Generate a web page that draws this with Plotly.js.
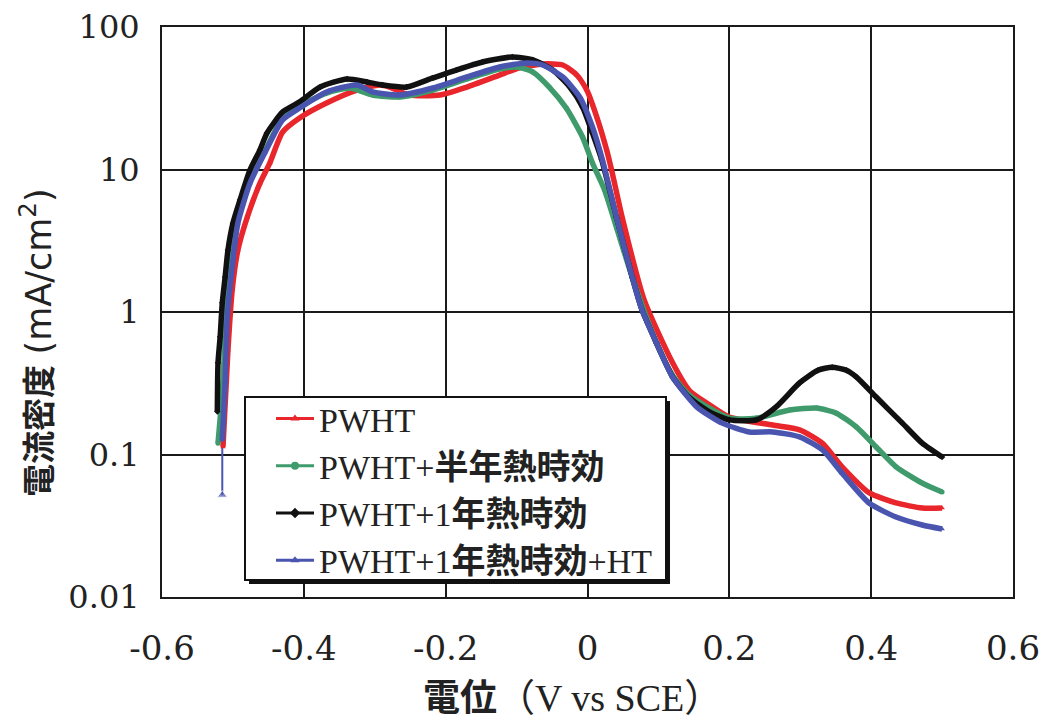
<!DOCTYPE html>
<html>
<head>
<meta charset="utf-8">
<script src="https://cdn.plot.ly/plotly-3.0.1.min.js"></script>
<style>
  html, body { margin: 0; padding: 0; background: #fff; }
  #chart { width: 1050px; height: 722px; }
</style>
</head>
<body>
<div id="chart"></div>
<script>
// Anodic polarization curves: potential (V vs SCE) against current density (mA/cm2)

const seriesNames = ['PWHT', 'PWHT+<b>半年熱時効</b>', 'PWHT+1<b>年熱時効</b>', 'PWHT+1<b>年熱時効</b>+HT'];

const potentialPWHT = [-0.514,-0.507,-0.501,-0.493,-0.480,-0.462,-0.448,-0.430,-0.406,-0.368,-0.325,-0.293,-0.279,-0.251,-0.208,-0.170,-0.124,-0.096,-0.063,-0.035,-0.015,-0.001,0.013,0.027,0.034,0.049,0.080,0.120,0.144,0.168,0.200,0.261,0.299,0.331,0.359,0.397,0.435,0.472,0.500];
const currentPWHT = [0.113,0.54,1.43,2.72,4.6,8.0,11.1,18.3,23.0,29.3,36.1,39.2,37.9,33.3,33.3,37.9,46.0,51.6,55.0,54.1,46.0,36.1,23.4,13.7,9.9,4.6,1.21,0.44,0.28,0.23,0.183,0.161,0.149,0.12,0.082,0.054,0.0457,0.0421,0.0421];

const potentialHalfYear = [-0.521,-0.514,-0.510,-0.503,-0.494,-0.477,-0.456,-0.430,-0.406,-0.368,-0.335,-0.303,-0.265,-0.218,-0.170,-0.124,-0.100,-0.077,-0.054,-0.030,-0.007,0.007,0.024,0.041,0.063,0.097,0.120,0.144,0.200,0.238,0.285,0.323,0.351,0.379,0.407,0.435,0.472,0.500];
const currentHalfYear = [0.12,0.32,0.92,2.07,4.2,8.0,13.1,23.0,27.9,34.4,37.3,33.3,32.3,36.1,43.2,50.7,52.4,48.3,37.9,27.0,16.9,11.1,7.2,3.9,1.76,0.61,0.36,0.26,0.18,0.18,0.205,0.212,0.195,0.156,0.113,0.082,0.063,0.0546];

const potentialOneYear = [-0.522,-0.521,-0.518,-0.515,-0.511,-0.507,-0.500,-0.490,-0.476,-0.462,-0.452,-0.430,-0.406,-0.377,-0.339,-0.311,-0.289,-0.255,-0.218,-0.185,-0.148,-0.106,-0.077,-0.049,-0.025,-0.007,0.007,0.020,0.041,0.063,0.077,0.097,0.120,0.144,0.172,0.200,0.238,0.266,0.299,0.325,0.345,0.365,0.379,0.407,0.444,0.472,0.500];
const currentOneYear = [0.20,0.44,0.67,1.16,1.76,2.72,4.2,6.1,9.9,13.7,18.0,25.3,29.8,37.9,43.2,41.1,39.2,37.9,43.9,49.9,56.8,61.6,58.7,49.9,37.9,27.5,18.0,11.7,4.6,1.76,1.03,0.61,0.35,0.25,0.199,0.175,0.175,0.216,0.318,0.39,0.41,0.39,0.35,0.253,0.166,0.12,0.096];

const potentialOneYearHT = [-0.515,-0.511,-0.508,-0.501,-0.493,-0.476,-0.455,-0.430,-0.406,-0.368,-0.325,-0.303,-0.265,-0.218,-0.170,-0.124,-0.086,-0.063,-0.035,-0.011,0.007,0.021,0.041,0.063,0.077,0.097,0.120,0.154,0.190,0.228,0.261,0.299,0.331,0.359,0.397,0.435,0.472,0.500];
const currentOneYearHT = [0.126,0.32,0.92,2.07,4.2,8.0,13.1,22.3,27.0,35.0,39.2,35.0,33.3,37.3,44.6,52.4,55.9,54.1,44.6,32.3,19.9,11.7,4.6,1.76,1.03,0.61,0.35,0.216,0.166,0.144,0.144,0.133,0.108,0.074,0.0457,0.0364,0.032,0.030];

// first readings of the +HT run, before the sweep starts rising
const potentialOneYearHTStart = [-0.515, -0.515];
const currentOneYearHTStart = [0.052, 0.126];

const xTickVals = [-0.6, -0.4, -0.2, 0, 0.2, 0.4, 0.6];
const xTickText = ['-0.6', '-0.4', '-0.2', '0', '0.2', '0.4', '0.6'];
const yTickVals = [0.01, 0.1, 1, 10, 100];
const yTickText = ['0.01', '0.1', '1', '10', '100'];

const xTitle = '<b>電位</b><span style="font-size:38px">（V vs SCE）</span>';
const yTitle = '<b>電流密度</b> <span style="font-size:35px">(mA/cm<sup>2</sup>)</span>';

const colors = ['#e8262b', '#3f9b6b', '#111111', '#4a55b0'];
const symbols = ['triangle-up', 'circle', 'diamond', 'triangle-up'];

const xs = [potentialPWHT, potentialHalfYear, potentialOneYear, potentialOneYearHT];
const ys = [currentPWHT, currentHalfYear, currentOneYear, currentOneYearHT];

const traces = [];
// start segment of the +HT run (thin)
traces.push({
  x: potentialOneYearHTStart, y: currentOneYearHTStart,
  mode: 'lines+markers', showlegend: false, hoverinfo: 'skip',
  line: { color: colors[3], width: 2 },
  marker: { color: colors[3], size: [9, 0], symbol: 'triangle-up' }
});
for (let i = 0; i < 4; i++) {
  traces.push({
    x: xs[i], y: ys[i], name: seriesNames[i],
    mode: 'lines+markers', showlegend: false,
    line: { color: colors[i], width: 5.5, shape: 'spline', smoothing: 0.6 },
    marker: { color: colors[i], size: 5, symbol: symbols[i] }
  });
}
// legend entries (thin line with marker)
for (let i = 0; i < 4; i++) {
  traces.push({
    x: [null], y: [null], name: seriesNames[i],
    mode: 'lines+markers', showlegend: true,
    line: { color: colors[i], width: 3 },
    marker: { color: colors[i], size: 8, symbol: symbols[i] }
  });
}

// layout positions in px, converted to paper fractions of the plot area
const plotL = 162, plotW = 851, plotT = 27, plotH = 570;
const px2x = p => (p - plotL) / plotW;
const px2y = p => (plotT + plotH - p) / plotH;
const box = { l: 245, r: 666, t: 397, b: 580 }, shadow = 4;

const layout = {
  width: 1050, height: 722,
  margin: { l: plotL, r: 1050 - plotL - plotW, t: plotT, b: 722 - plotT - plotH },
  paper_bgcolor: '#fff', plot_bgcolor: '#fff',
  showlegend: true,
  xaxis: {
    range: [-0.6, 0.6], tickvals: xTickVals, ticktext: xTickText,
    showgrid: true, gridcolor: '#1a1a1a', gridwidth: 2,
    zeroline: false, showline: true, linecolor: '#1a1a1a', linewidth: 2, mirror: true,
    ticks: '', tickfont: { family: 'DejaVu Serif', size: 34, color: '#222' }, ticklabelstandoff: 20
  },
  yaxis: {
    type: 'log', range: [-2, 2], tickvals: yTickVals, ticktext: yTickText,
    showgrid: true, gridcolor: '#1a1a1a', gridwidth: 2,
    zeroline: false, showline: true, linecolor: '#1a1a1a', linewidth: 2, mirror: true,
    ticks: '', tickfont: { family: 'DejaVu Serif', size: 32, color: '#222' }, ticklabelstandoff: 14
  },
  annotations: [
    { text: xTitle, xref: 'paper', yref: 'paper', x: px2x(572), y: px2y(698),
      xanchor: 'center', yanchor: 'middle', showarrow: false,
      font: { family: 'Liberation Serif, Noto Sans CJK JP', size: 37, color: '#222' } },
    { text: yTitle, xref: 'paper', yref: 'paper', x: px2x(36), y: px2y(343),
      xanchor: 'center', yanchor: 'middle', showarrow: false, textangle: -90,
      font: { family: 'DejaVu Sans, Noto Sans CJK JP', size: 33, color: '#222' } }
  ],
  legend: {
    x: px2x(271), y: px2y(390), xanchor: 'left', yanchor: 'top',
    bgcolor: 'rgba(0,0,0,0)', borderwidth: 0,
    font: { family: 'Liberation Serif, Noto Sans CJK JP', size: 34, color: '#222' },
    tracegroupgap: 0, itemwidth: 38
  },
  shapes: [
    // legend frame with its drop shadow
    { type: 'rect', xref: 'paper', yref: 'paper', layer: 'above',
      x0: px2x(box.l + shadow), x1: px2x(box.r + shadow), y0: px2y(box.b + shadow), y1: px2y(box.t + shadow),
      fillcolor: '#111', line: { width: 0 } },
    { type: 'rect', xref: 'paper', yref: 'paper', layer: 'above',
      x0: px2x(box.l), x1: px2x(box.r), y0: px2y(box.b), y1: px2y(box.t),
      fillcolor: '#fff', line: { color: '#111', width: 2 } }
  ]
};

Plotly.newPlot('chart', traces, layout, { displayModeBar: false, staticPlot: true });
</script>
</body>
</html>
